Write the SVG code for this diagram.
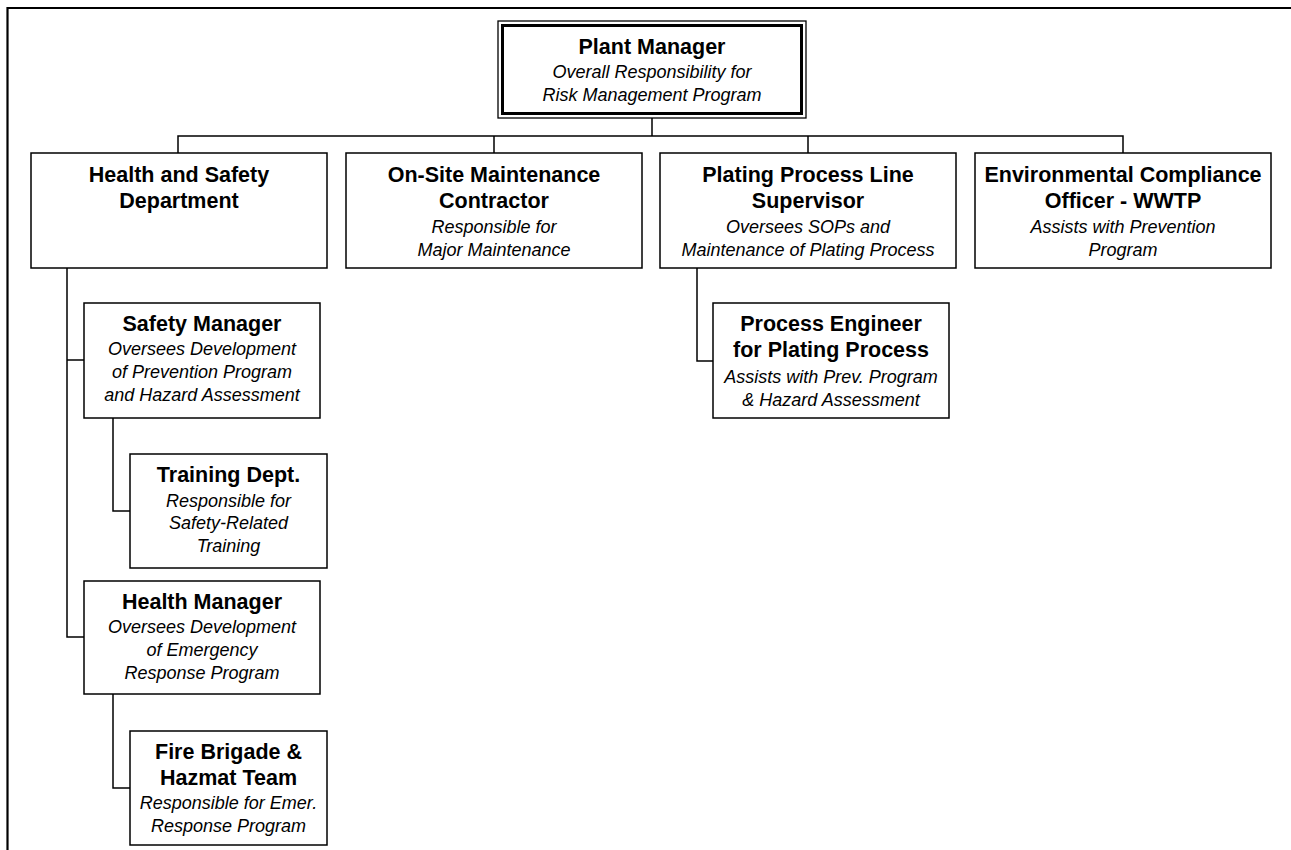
<svg xmlns="http://www.w3.org/2000/svg" width="1291" height="850" viewBox="0 0 1291 850">
<style>
.box{fill:#fff;stroke:#000;stroke-width:1.5}
.t{font-family:"Liberation Sans",Arial,sans-serif;font-weight:bold;font-size:21.5px;fill:#000;text-anchor:middle}
.s{font-family:"Liberation Sans",Arial,sans-serif;font-style:italic;font-size:18px;fill:#000;text-anchor:middle}
.c{fill:none;stroke:#000;stroke-width:1.5}
</style>
<rect width="1291" height="850" fill="#fff"/>
<path d="M7.5,850 V8 H1291" fill="none" stroke="#000" stroke-width="2.2"/>
<g id="connectors" class="c">
<path d="M652,118 V136 M178,153 V136 H1123 V153 M494,136 V153 M808,136 V153"/>
<path d="M67,268 V637 H84 M67,360 H84"/>
<path d="M113,418 V511 H130"/>
<path d="M113,694 V788 H130"/>
<path d="M697,268 V361 H713"/>
</g>
<g id="plant-manager">
<rect x="498" y="21" width="308" height="97" fill="#fff" stroke="#000" stroke-width="1.3"/>
<rect x="502.5" y="25.5" width="299" height="88" fill="none" stroke="#000" stroke-width="3"/>
<text class="t" x="652" y="54">Plant Manager</text>
<text class="s" x="652" y="77.5">Overall Responsibility for</text>
<text class="s" x="652" y="100.5">Risk Management Program</text>
</g>
<g id="health-safety">
<rect class="box" x="31" y="153" width="296" height="115"/>
<text class="t" x="179" y="181.5">Health and Safety</text>
<text class="t" x="179" y="208">Department</text>
</g>
<g id="onsite">
<rect class="box" x="346" y="153" width="296" height="115"/>
<text class="t" x="494" y="181.5">On-Site Maintenance</text>
<text class="t" x="494" y="208">Contractor</text>
<text class="s" x="494" y="232.5">Responsible for</text>
<text class="s" x="494" y="255.5">Major Maintenance</text>
</g>
<g id="plating">
<rect class="box" x="660" y="153" width="296" height="115"/>
<text class="t" x="808" y="181.5">Plating Process Line</text>
<text class="t" x="808" y="208">Supervisor</text>
<text class="s" x="808" y="232.5">Oversees SOPs and</text>
<text class="s" x="808" y="255.5">Maintenance of Plating Process</text>
</g>
<g id="environmental">
<rect class="box" x="975" y="153" width="296" height="115"/>
<text class="t" x="1123" y="181.5">Environmental Compliance</text>
<text class="t" x="1123" y="208">Officer - WWTP</text>
<text class="s" x="1123" y="232.5">Assists with Prevention</text>
<text class="s" x="1123" y="255.5">Program</text>
</g>
<g id="safety-manager">
<rect class="box" x="84" y="303" width="236" height="115"/>
<text class="t" x="202" y="331">Safety Manager</text>
<text class="s" x="202" y="355">Oversees Development</text>
<text class="s" x="202" y="378">of Prevention Program</text>
<text class="s" x="202" y="401">and Hazard Assessment</text>
</g>
<g id="training">
<rect class="box" x="130" y="454" width="197" height="114"/>
<text class="t" x="228.5" y="482">Training Dept.</text>
<text class="s" x="228.5" y="506.5">Responsible for</text>
<text class="s" x="228.5" y="529">Safety-Related</text>
<text class="s" x="228.5" y="552">Training</text>
</g>
<g id="health-manager">
<rect class="box" x="84" y="581" width="236" height="113"/>
<text class="t" x="202" y="609">Health Manager</text>
<text class="s" x="202" y="633">Oversees Development</text>
<text class="s" x="202" y="656">of Emergency</text>
<text class="s" x="202" y="679">Response Program</text>
</g>
<g id="fire-brigade">
<rect class="box" x="130" y="731" width="197" height="114"/>
<text class="t" x="228.5" y="759">Fire Brigade &amp;</text>
<text class="t" x="228.5" y="785">Hazmat Team</text>
<text class="s" x="228.5" y="809">Responsible for Emer.</text>
<text class="s" x="228.5" y="832">Response Program</text>
</g>
<g id="process-engineer">
<rect class="box" x="713" y="303" width="236" height="115"/>
<text class="t" x="831" y="331">Process Engineer</text>
<text class="t" x="831" y="357">for Plating Process</text>
<text class="s" x="831" y="382.5">Assists with Prev. Program</text>
<text class="s" x="831" y="405.5">&amp; Hazard Assessment</text>
</g>
</svg>
